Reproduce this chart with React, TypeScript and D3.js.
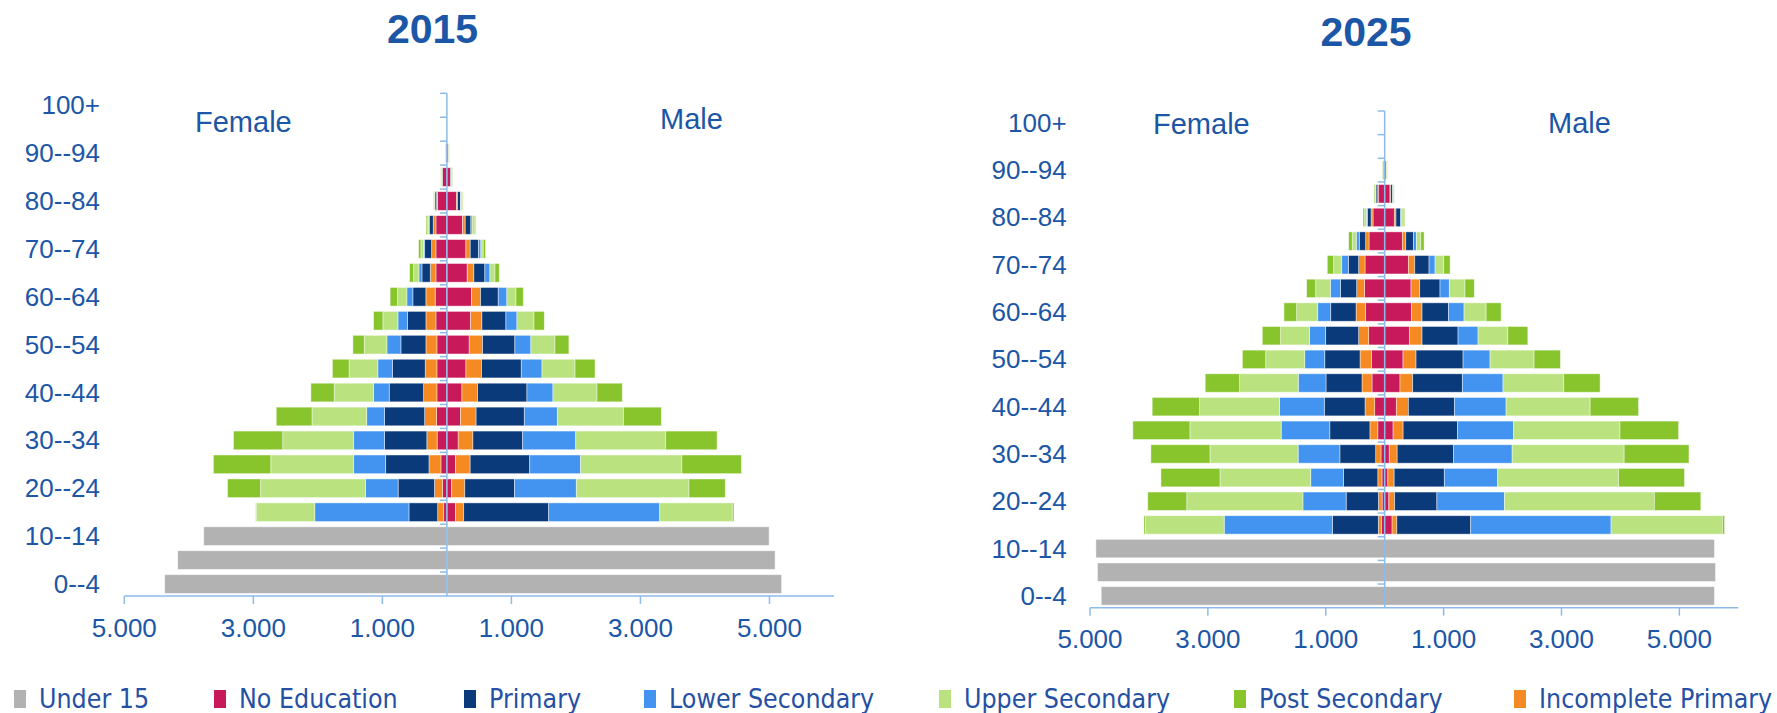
import React from "react";
import * as d3 from "d3";

// ---------- DATA ----------
const AGE_GROUPS = ["0--4","5--9","10--14","15--19","20--24","25--29","30--34","35--39","40--44","45--49","50--54","55--59","60--64","65--69","70--74","75--79","80--84","85--89","90--94","95--99","100+"];
const LEVELS = ["Under 15","No Education","Primary","Lower Secondary","Upper Secondary","Post Secondary","Incomplete Primary"];
const LEVEL_KEYS = ["under15","noEdu","primary","lower","upper","post","incPrim"];
const STACK_ORDER = ["under15","noEdu","incPrim","primary","lower","upper","post"];
const TICK_VALUES = [-5000, -3000, -1000, 1000, 3000, 5000];
const YEARS = ["2015", "2025"];

// 2015 female (age index 0 = 0--4 ... 20 = 100+)
const F2015_UNDER15 = [4374,4172,3769,0,0,0,0,0,0,0,0,0,0,0,0,0,0,0,0,0,0];
const F2015_NOEDU   = [0,0,0,50,67,93,151,160,155,155,155,170,181,170,170,170,145,68,15,0,0];
const F2015_INCPRIM = [0,0,0,93,126,185,160,185,207,181,170,155,145,88,67,42,15,5,0,0,0];
const F2015_PRIMARY = [0,0,0,445,563,671,655,621,532,507,388,284,202,129,108,62,26,8,3,0,0];
const F2015_LOWER   = [0,0,0,1460,504,496,479,277,243,228,217,150,93,47,16,5,3,2,0,0,0];
const F2015_UPPER   = [0,0,0,907,1628,1284,1099,848,609,445,351,233,145,82,42,30,10,6,4,0,0];
const F2015_POST    = [0,0,0,8,512,890,764,554,362,259,176,145,114,62,36,15,8,5,4,0,0];

// 2015 male
const M2015_UNDER15 = [5188,5087,4994,0,0,0,0,0,0,0,0,0,0,0,0,0,0,0,0,0,0];
const M2015_NOEDU   = [0,0,0,134,75,134,176,210,233,295,346,367,382,315,295,243,150,55,20,0,0];
const M2015_INCPRIM = [0,0,0,126,202,227,227,243,243,243,207,176,140,103,67,41,15,3,0,0,0];
const M2015_PRIMARY = [0,0,0,1318,772,923,772,747,765,615,501,372,274,171,129,88,46,15,5,0,0];
const M2015_LOWER   = [0,0,0,1721,957,789,822,512,403,321,248,171,134,78,36,20,5,2,0,0,0];
const M2015_UPPER   = [0,0,0,1125,1746,1569,1394,1024,682,512,372,264,140,78,36,45,20,10,5,0,0];
const M2015_POST    = [0,0,0,25,563,924,797,588,393,310,217,160,114,67,36,12,7,5,6,0,0];

// 2025 female
const F2025_UNDER15 = [4810,4873,4900,0,0,0,0,0,0,0,0,0,0,0,0,0,0,0,0,0,0];
const F2025_NOEDU   = [0,0,0,54,44,46,63,117,170,215,226,272,328,345,334,266,198,110,25,0,0];
const F2025_INCPRIM = [0,0,0,54,63,71,90,134,164,170,192,170,158,130,108,57,34,8,0,0,0];
const F2025_PRIMARY = [0,0,0,779,547,581,608,681,691,611,599,560,430,277,175,108,62,30,3,0,0];
const F2025_LOWER   = [0,0,0,1836,734,557,708,824,758,470,340,272,221,170,113,51,17,4,0,0,0];
const F2025_UPPER   = [0,0,0,1335,1970,1540,1496,1549,1358,996,662,492,357,249,136,68,28,15,5,0,0];
const F2025_POST    = [0,0,0,27,662,1002,1002,968,804,583,396,311,215,153,108,62,28,15,8,0,0];

// 2025 male
const M2025_UNDER15 = [5595,5613,5595,0,0,0,0,0,0,0,0,0,0,0,0,0,0,0,0,0,0];
const M2025_NOEDU   = [0,0,0,126,71,54,78,143,198,260,311,419,453,447,402,300,164,90,25,0,0];
const M2025_INCPRIM = [0,0,0,80,98,107,134,170,204,215,221,215,181,147,108,57,28,12,0,0,0];
const M2025_PRIMARY = [0,0,0,1253,717,851,958,922,781,843,798,611,447,345,243,130,79,34,5,0,0];
const M2025_LOWER   = [0,0,0,2382,1146,905,993,949,877,690,458,340,266,158,102,51,17,3,0,0,0];
const M2025_UPPER   = [0,0,0,1890,2544,2051,1900,1808,1426,1030,747,504,374,266,147,74,28,14,6,0,0];
const M2025_POST    = [0,0,0,36,788,1119,1100,995,821,617,447,340,255,158,108,57,23,8,8,0,0];

// ---------- STYLE / LAYOUT ----------
const COLORS: Record<string, string> = {
  under15: "#b2b2b2",
  noEdu: "#c8195b",
  primary: "#0b3a7a",
  lower: "#4294f0",
  upper: "#bae380",
  post: "#88c52d",
  incPrim: "#f48a21",
};
const TEXT_BLUE = "#1c56a6";
const AXIS_BLUE = "#8dbbe8";
const FONT = "'Liberation Sans', Arial, sans-serif";

const LAYOUTS = [
  { x0: 124.3, x1: 834, y0: 93.3, y1: 596, labelRight: 100, femaleX: 195, femaleY: 132, maleX: 660, maleY: 129, titleX: 432.5, titleY: 43, tickLabelY: 637 },
  { x0: 1090, x1: 1738.3, y0: 111, y1: 607.7, labelRight: 1066.7, femaleX: 1153, femaleY: 134, maleX: 1548, maleY: 133, titleX: 1366, titleY: 46, tickLabelY: 648 },
];
const LEGEND_X = [14, 214, 464, 644, 939, 1234, 1514];

const fmt = d3.formatLocale({ decimal: ",", thousands: ".", grouping: [3], currency: ["", ""] }).format(",");

type Row = Record<string, number>;

function buildRows(arrs: number[][]): Row[] {
  // arrs order: under15, noEdu, incPrim, primary, lower, upper, post
  return AGE_GROUPS.map((_, i) => {
    const r: Row = { idx: i };
    STACK_ORDER.forEach((k, j) => (r[k] = arrs[j][i]));
    return r;
  });
}

const DATA = {
  "2015": {
    female: buildRows([F2015_UNDER15, F2015_NOEDU, F2015_INCPRIM, F2015_PRIMARY, F2015_LOWER, F2015_UPPER, F2015_POST]),
    male: buildRows([M2015_UNDER15, M2015_NOEDU, M2015_INCPRIM, M2015_PRIMARY, M2015_LOWER, M2015_UPPER, M2015_POST]),
  },
  "2025": {
    female: buildRows([F2025_UNDER15, F2025_NOEDU, F2025_INCPRIM, F2025_PRIMARY, F2025_LOWER, F2025_UPPER, F2025_POST]),
    male: buildRows([M2025_UNDER15, M2025_NOEDU, M2025_INCPRIM, M2025_PRIMARY, M2025_LOWER, M2025_UPPER, M2025_POST]),
  },
};

function Pyramid({ year, layout }: { year: string; layout: typeof LAYOUTS[number] }) {
  const d = (DATA as any)[year];
  const x = d3.scaleLinear().domain([-5000, 6000]).range([layout.x0, layout.x1]);
  const y = d3
    .scaleBand<string>()
    .domain([...AGE_GROUPS].reverse())
    .range([layout.y0, layout.y1])
    .paddingInner(0.22)
    .paddingOuter(0.11);
  const stack = d3.stack<Row>().keys(STACK_ORDER);
  const fStack = stack(d.female);
  const mStack = stack(d.male);
  const cx = x(0);
  const step = y.step();
  const n = AGE_GROUPS.length;

  const segs: JSX.Element[] = [];
  const addSide = (series: d3.Series<Row, string>[], sign: number, side: string) => {
    series.forEach((s) => {
      s.forEach((pt, i) => {
        const v0 = pt[0], v1 = pt[1];
        if (v1 - v0 <= 0) return;
        const a = x(sign * v0), b = x(sign * v1);
        segs.push(
          <rect
            key={`${side}-${s.key}-${i}`}
            x={Math.min(a, b)}
            y={y(AGE_GROUPS[i])!}
            width={Math.abs(b - a)}
            height={y.bandwidth()}
            fill={COLORS[s.key]}
            stroke="#ffffff"
            strokeOpacity={0.55}
            strokeWidth={0.8}
          />
        );
      });
    });
  };
  addSide(fStack, -1, "f");
  addSide(mStack, 1, "m");

  const yTicks = d3.range(n).map((k) => layout.y0 + k * step);

  return (
    <g>
      <text x={layout.titleX} y={layout.titleY} textAnchor="middle" fontFamily={FONT} fontWeight="bold" fontSize={41} fill={TEXT_BLUE}>
        {year}
      </text>
      <text x={layout.femaleX} y={layout.femaleY} fontFamily={FONT} fontSize={29} fill={TEXT_BLUE}>Female</text>
      <text x={layout.maleX} y={layout.maleY} fontFamily={FONT} fontSize={29} fill={TEXT_BLUE}>Male</text>
      {segs}
      {/* vertical axis */}
      <line x1={cx} x2={cx} y1={layout.y0} y2={layout.y1} stroke={AXIS_BLUE} strokeWidth={1.5} />
      {yTicks.map((t, k) => (
        <line key={`yt${k}`} x1={cx - 7} x2={cx} y1={t} y2={t} stroke={AXIS_BLUE} strokeWidth={1.5} />
      ))}
      {/* category labels */}
      {AGE_GROUPS.map((g, i) =>
        i % 2 === 0 ? (
          <text key={`cl${i}`} x={layout.labelRight} y={y(g)! + y.bandwidth() / 2 + 9} textAnchor="end" fontFamily={FONT} fontSize={26} fill={TEXT_BLUE}>
            {g}
          </text>
        ) : null
      )}
      {/* x axis */}
      <line x1={layout.x0} x2={layout.x1} y1={layout.y1} y2={layout.y1} stroke={AXIS_BLUE} strokeWidth={1.5} />
      {TICK_VALUES.map((v) => (
        <g key={`xt${v}`}>
          <line x1={x(v)} x2={x(v)} y1={layout.y1} y2={layout.y1 + 8} stroke={AXIS_BLUE} strokeWidth={1.5} />
          <text x={x(v)} y={layout.tickLabelY} textAnchor="middle" fontFamily={FONT} fontSize={26} fill={TEXT_BLUE}>
            {fmt(Math.abs(v))}
          </text>
        </g>
      ))}
    </g>
  );
}

function Legend() {
  return (
    <g>
      {LEVELS.map((name, i) => (
        <g key={name}>
          <rect x={LEGEND_X[i]} y={690} width={12} height={18} fill={COLORS[LEVEL_KEYS[i]]} />
          <text
            x={LEGEND_X[i] + 25}
            y={708}
            fontFamily="'DejaVu Sans Condensed', 'DejaVu Sans', sans-serif"
            fontStretch="condensed"
            fontSize={26.5}
            fill="#2550a3"
          >
            {name}
          </text>
        </g>
      ))}
    </g>
  );
}

export default function App() {
  return (
    <svg width={1777} height={713} style={{ position: "absolute", left: 0, top: 0, background: "#fff" }}>
      {YEARS.map((yr, i) => (
        <Pyramid key={yr} year={yr} layout={LAYOUTS[i]} />
      ))}
      <Legend />
    </svg>
  );
}
